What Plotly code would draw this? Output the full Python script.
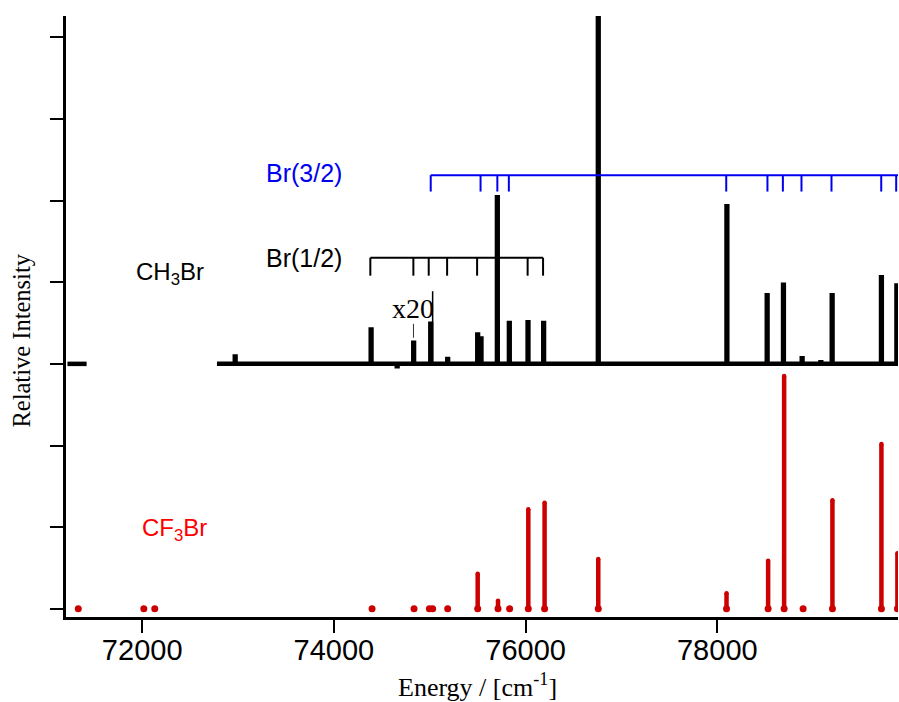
import plotly.graph_objects as go

# ---- data ----
# CH3Br spectrum (offset by +3 units): peak positions (cm-1) and heights
ch3br_pos = [72970, 74388, 74660, 74832, 75010, 75187, 75500, 75535, 75705, 75830,
             76025, 76188, 76758, 78100, 78520, 78690, 78885, 79080, 79198, 79712, 79873]
ch3br_int = [0.09, 0.42, -0.03, 0.26, 0.49, 0.06, 0.36, 0.31, 2.04, 0.50,
             0.51, 0.50, 4.25, 1.93, 0.84, 0.97, 0.07, 0.02, 0.84, 1.06, 0.96]
ch3br_offset = 3.0
ch3br_segments = [(71220, 71420), (72780, 79885)]

# x20 magnified trace
x20_pos = [75030]
x20_int = [0.89]

# CF3Br calculated stick spectrum
cf3br_pos = [71333, 72017, 72131, 74398, 74836, 74996, 75030, 75187, 75500, 75712, 75833,
             76028, 76198, 76758, 78096, 78530, 78697, 78895, 79201, 79712, 79879]
cf3br_int = [0, 0, 0, 0, 0, 0, 0, 0, 0.43, 0.10, 0,
             1.22, 1.30, 0.61, 0.19, 0.59, 2.85, 0, 1.33, 2.02, 0.68]

# Rydberg series brackets
br32_pos = [75010, 75530, 75705, 75825, 78093, 78523, 78684, 78878, 79191, 79710, 79866]
br12_pos = [74380, 74829, 74989, 75181, 75494, 76021, 76182]

x_ticks = [72000, 74000, 76000, 78000]
x_range = [71205, 79885]
y_range = [-0.1, 7.26]

# ---- build traces ----
fig = go.Figure()

# CH3Br line
hw = 4
xs, ys = [], []
for (a, b) in ch3br_segments:
    xs.append(a); ys.append(ch3br_offset)
    for p, h in zip(ch3br_pos, ch3br_int):
        if a < p < b:
            xs += [p - hw, p - hw, p + hw, p + hw]
            ys += [ch3br_offset, ch3br_offset + h, ch3br_offset + h, ch3br_offset]
    xs.append(b); ys.append(ch3br_offset)
    xs.append(None); ys.append(None)
fig.add_trace(go.Scatter(x=xs, y=ys, mode="lines",
                         line=dict(color="black", width=4.5), hoverinfo="skip"))

# x20 thin trace
xs, ys = [], []
for p, h in zip(x20_pos, x20_int):
    xs += [p, p, None]
    ys += [ch3br_offset, ch3br_offset + h, None]
fig.add_trace(go.Scatter(x=xs, y=ys, mode="lines",
                         line=dict(color="black", width=1.5), hoverinfo="skip"))

# CF3Br sticks
xs, ys = [], []
tx, ty = [], []
for p, h in zip(cf3br_pos, cf3br_int):
    if h > 0:
        xs += [p, p, None]
        ys += [0, h, None]
        tx.append(p); ty.append(h)
fig.add_trace(go.Scatter(x=xs, y=ys, mode="lines",
                         line=dict(color="#cc0000", width=4.5), hoverinfo="skip"))
fig.add_trace(go.Scatter(x=tx, y=ty, mode="markers",
                         marker=dict(color="#cc0000", size=4.5, line=dict(width=0)), hoverinfo="skip"))
fig.add_trace(go.Scatter(x=cf3br_pos, y=[0] * len(cf3br_pos), mode="markers",
                         marker=dict(color="#cc0000", size=7), hoverinfo="skip"))

# brackets
def bracket(pos, y_top, y_bot, x_end, color):
    bx, by = [pos[0], x_end, None], [y_top, y_top, None]
    for p in pos:
        bx += [p, p, None]
        by += [y_top, y_bot, None]
    fig.add_trace(go.Scatter(x=bx, y=by, mode="lines",
                             line=dict(color=color, width=2), hoverinfo="skip"))

bracket(br32_pos, 5.31, 5.11, x_range[1], "#0000ee")
bracket(br12_pos, 4.30, 4.08, br12_pos[-1], "black")

# x20 pointer
fig.add_trace(go.Scatter(x=[74830, 74830], y=[3.49, 3.32], mode="lines",
                         line=dict(color="#333333", width=1), hoverinfo="skip"))

sans = "Liberation Sans, Arial, sans-serif"
serif = "Liberation Serif, Times New Roman, serif"
ann = [
    dict(x=72285, y=4.11, text="CH<sub>3</sub>Br", font=dict(family=sans, size=24, color="black")),
    dict(x=73683, y=4.30, text="Br(1/2)", font=dict(family=sans, size=25, color="black")),
    dict(x=73683, y=5.34, text="Br(3/2)", font=dict(family=sans, size=25, color="#0000ee")),
    dict(x=72337, y=0.97, text="CF<sub>3</sub>Br", font=dict(family=sans, size=24, color="#ff0000")),
    dict(x=74830, y=3.68, text="x20", font=dict(family=serif, size=28, color="black")),
]
for a in ann:
    fig.add_annotation(xref="x", yref="y", showarrow=False, xanchor="center", yanchor="middle", **a)

fig.add_annotation(xref="paper", yref="paper", x=-0.0529, y=0.46, text="Relative Intensity",
                   textangle=-90, showarrow=False, xanchor="center", yanchor="middle",
                   font=dict(family=serif, size=24.5, color="black"))
fig.add_annotation(xref="paper", yref="paper", x=0.495, y=-0.114, text="Energy / [cm<sup>-1</sup>]",
                   showarrow=False, xanchor="center", yanchor="middle",
                   font=dict(family=serif, size=26, color="black"))

fig.update_layout(
    width=899, height=702,
    margin=dict(l=66, r=1, t=16, b=85),
    plot_bgcolor="white", paper_bgcolor="white",
    showlegend=False,
)
fig.update_xaxes(range=x_range, tickvals=x_ticks, ticktext=[str(t) for t in x_ticks],
                 showgrid=False, zeroline=False, showline=True, linecolor="black", linewidth=2.5,
                 ticks="outside", ticklen=13, tickwidth=2, tickcolor="black",
                 ticklabelstandoff=-8,
                 tickfont=dict(family=sans, size=29, color="black"))
fig.update_yaxes(range=y_range, tickvals=list(range(8)), showticklabels=False,
                 showgrid=False, zeroline=False, showline=True, linecolor="black", linewidth=3,
                 ticks="outside", ticklen=13, tickwidth=1.5, tickcolor="black")

fig.write_html("out.html", config={"displayModeBar": False},
               post_script="document.body.style.margin='0';document.body.style.overflow='hidden';")
